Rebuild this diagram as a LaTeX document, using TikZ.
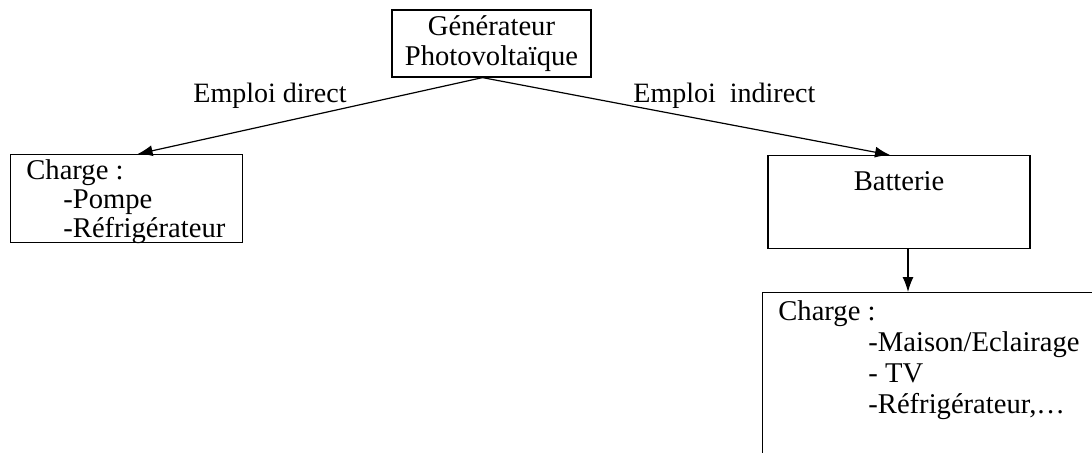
\documentclass[tikz,border=0pt]{standalone}
\usepackage{fontspec}
\setmainfont{Liberation Serif}
\usetikzlibrary{arrows.meta}

\tikzset{
  bloc/.style={draw, line width=0.6pt, inner sep=0pt},
  texte/.style={inner sep=0pt, font=\fontsize{14.3}{#1}\selectfont},
  texte/.default=14pt,
  etiquette/.style={inner sep=0pt, font=\fontsize{14}{14}\selectfont},
  fleche/.style={line width=0.6pt, -{Latex[length=7.5pt,width=5.5pt]}}
}

\begin{document}
\begin{tikzpicture}[x=0.5pt, y=-0.5pt]
    \useasboundingbox (0,0) rectangle (1092,452);
    % generateur
    \node[bloc, texte=15pt, align=center, minimum width=99.5pt, minimum height=33.5pt] (gen) at (491.5,43.5) {Générateur\\Photovoltaïque};
    % emploi direct (base = derniere ligne)
    \node[bloc, minimum width=116pt, minimum height=44pt, anchor=north west] (chargeA) at (10,154) {};
    \node[texte=14.5pt, align=left, anchor=base west] (listeA) at (26,237) {Charge :\\\hspace*{18.5pt}-Pompe\\\hspace*{18.5pt}-Réfrigérateur};
    % emploi indirect
    \node[bloc, texte, minimum width=131pt, text height=17.5pt, text depth=29pt, anchor=north] (batt) at (899,155) {Batterie};
    \node[bloc, minimum width=200pt, minimum height=100pt, anchor=north west] (chargeB) at (762,292) {};
    \node[texte=15.5pt, align=left, anchor=base west] (listeB) at (778,413) {Charge :\\\hspace*{45pt}-Maison/Eclairage\\\hspace*{45pt}- TV\\\hspace*{45pt}-Réfrigérateur,…};
    % liaisons
    \node[etiquette, anchor=base west] (lblDirect) at (193,102) {Emploi direct};
    \node[etiquette, anchor=base west] (lblIndirect) at (633,102) {Emploi\ \ indirect};
    \coordinate (genOut) at ([xshift=-4.5pt]gen.south);
    \coordinate (battOut) at ([xshift=4.5pt]batt.south);
    \draw[fleche] (genOut) -- ([xshift=5.5pt]chargeA.north);
    \draw[fleche] (genOut) -- ([xshift=-4.5pt]batt.north);
    \draw[fleche] (battOut) -- (battOut |- chargeB.north);
\end{tikzpicture}
\end{document}
